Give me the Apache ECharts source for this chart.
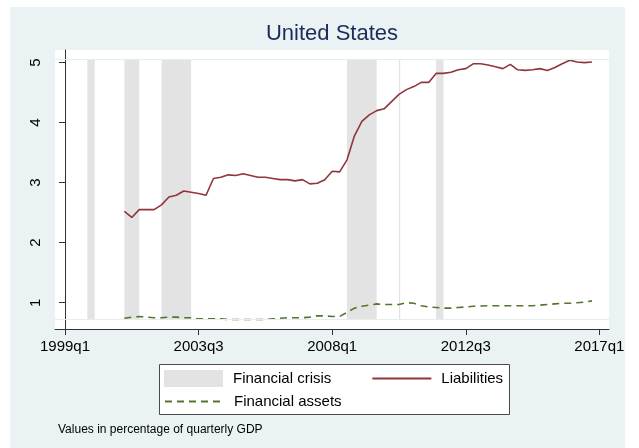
<!DOCTYPE html>
<html>
<head>
<meta charset="utf-8">
<script src="https://cdn.jsdelivr.net/npm/echarts@6/dist/echarts.min.js"></script>
<style>
  html, body { margin: 0; padding: 0; background: #fff; }
  #chart { width: 639px; height: 448px; }
</style>
</head>
<body>
<div id="chart"></div>
<script>
// quarterly series, starting at firstQuarter
const firstQuarter = '2001q1';
const liabilities = [
  2.52, 2.42, 2.55, 2.55, 2.55, 2.63, 2.76, 2.79, 2.86, 2.84, 2.82, 2.79,
  3.07, 3.09, 3.13, 3.12, 3.15, 3.12, 3.09, 3.09, 3.07, 3.05, 3.05, 3.03,
  3.05, 2.98, 2.99, 3.05, 3.19, 3.18, 3.38, 3.78, 4.02, 4.13, 4.20, 4.23,
  4.35, 4.47, 4.55, 4.60, 4.67, 4.67, 4.82, 4.82, 4.84, 4.88, 4.90, 4.98,
  4.98, 4.96, 4.93, 4.90, 4.97, 4.88, 4.87, 4.88, 4.90, 4.87, 4.92, 4.98,
  5.04, 5.01, 5.00, 5.01
];
const assets = [
  0.74, 0.76, 0.77, 0.76, 0.75, 0.75, 0.76, 0.76, 0.75, 0.75, 0.73, 0.73,
  0.73, 0.73, 0.72, 0.72, 0.72, 0.72, 0.72, 0.72, 0.73, 0.74, 0.75, 0.75,
  0.75, 0.76, 0.78, 0.78, 0.77, 0.77, 0.84, 0.91, 0.94, 0.96, 0.98, 0.97,
  0.97, 0.97, 1.00, 0.99, 0.95, 0.93, 0.92, 0.91, 0.91, 0.92, 0.93, 0.94,
  0.945, 0.95, 0.95, 0.95, 0.95, 0.95, 0.95, 0.95, 0.96, 0.97, 0.98, 0.99,
  0.99, 1.00, 1.01, 1.03
];

// crisis periods (first and last quarter)
const crisisStart = ['1999q4', '2001q1', '2002q2', '2008q3', '2010q2', '2011q3'];
const crisisEnd   = ['2000q1', '2001q3', '2003q2', '2009q3', '2010q2', '2011q4'];
const crisisTop = 5.05;
const crisisBottom = 0.73;

const xTickLabels = ['1999q1', '2003q3', '2008q1', '2012q3', '2017q1'];
const yTickLabels = [1, 2, 3, 4, 5];

const FONT = '"Liberation Sans", Arial, sans-serif';

function quarterIndex(label) {
  const parts = label.split('q').map(Number);
  return (parts[0] - 1999) * 4 + (parts[1] - 1);
}
function quarterLabel(i) {
  return (1999 + Math.floor(i / 4)) + 'q' + (i % 4 + 1);
}

const start = quarterIndex(firstQuarter);
const liabData = liabilities.map((v, i) => [start + i, v]);
const assetData = assets.map((v, i) => [start + i, v]);
const crisisData = crisisStart.map((s, i) => [quarterIndex(s), quarterIndex(crisisEnd[i])]);

const chart = echarts.init(document.getElementById('chart'));

// line legend items: keep the line, hide the marker
const lineOnly = { itemStyle: { opacity: 0 } };

const option = {
  animation: false,
  backgroundColor: '#fff',
  title: {
    text: 'United States',
    left: 332,
    top: 23,
    padding: 0,
    textAlign: 'center',
    textStyle: { fontFamily: FONT, fontSize: 22, fontWeight: 'normal', color: '#1c2d5a' }
  },
  graphic: [
    {
      type: 'rect', z: -10, silent: true,
      shape: { x: 10, y: 7, width: 615, height: 441 },
      style: { fill: '#eaf2f3' }
    },
    {
      type: 'rect', z: 1, silent: true,
      shape: { x: 159.5, y: 364.5, width: 350, height: 50 },
      style: { fill: '#fff', stroke: '#4a4a4a', lineWidth: 1 }
    },
    {
      type: 'text', z: 1, silent: true,
      x: 58, y: 430,
      style: { text: 'Values in percentage of quarterly GDP', font: '12px ' + FONT, fill: '#000', verticalAlign: 'middle' }
    }
  ],
  legend: [
    {
      data: [
        { name: 'Financial crisis', icon: 'rect' },
        Object.assign({ name: 'Liabilities' }, lineOnly)
      ],
      left: 164, top: 370, padding: 0,
      itemWidth: 59, itemHeight: 17, itemGap: 40,
      selectedMode: false, z: 5,
      textStyle: { fontFamily: FONT, fontSize: 15, color: '#000', padding: [0, 0, 0, 5] }
    },
    {
      data: [Object.assign({ name: 'Financial assets' }, lineOnly)],
      left: 164, top: 394, padding: 0,
      itemWidth: 59, itemHeight: 17,
      selectedMode: false, z: 5,
      textStyle: { fontFamily: FONT, fontSize: 15, color: '#000', padding: [0, 0, 0, 5] }
    }
  ],
  grid: {
    left: 55, top: 50, width: 554, height: 279,
    show: true, backgroundColor: '#fff', borderWidth: 0
  },
  xAxis: {
    type: 'value',
    min: -1.35, max: 73.3,
    splitLine: { show: false },
    axisLine: { show: true, lineStyle: { color: '#333', width: 1 } },
    axisTick: {
      show: true, length: 6, customValues: xTickLabels.map(quarterIndex),
      lineStyle: { color: '#333' }
    },
    axisLabel: {
      customValues: xTickLabels.map(quarterIndex),
      formatter: (v) => quarterLabel(v),
      margin: 10,
      fontFamily: FONT, fontSize: 15, color: '#000'
    }
  },
  yAxis: {
    type: 'value',
    min: 0.562, max: 5.21,
    splitLine: { show: false },
    axisLine: { show: true, lineStyle: { color: '#333', width: 1 } },
    axisTick: {
      show: true, length: 6, customValues: yTickLabels,
      lineStyle: { color: '#333' }
    },
    axisLabel: {
      customValues: yTickLabels,
      rotate: 90,
      margin: 12,
      fontFamily: FONT, fontSize: 15, color: '#000'
    }
  },
  series: [
    {
      name: 'Financial crisis',
      type: 'custom',
      color: '#e3e3e3',
      data: crisisData,
      encode: { x: [0, 1] },
      z: 1,
      renderItem(params, api) {
        const p0 = api.coord([api.value(0), crisisTop]);
        const p1 = api.coord([api.value(1), crisisBottom]);
        return {
          type: 'rect',
          shape: { x: p0[0], y: p0[1], width: Math.max(p1[0] - p0[0], 1.2), height: p1[1] - p0[1] },
          style: { fill: '#e3e3e3' }
        };
      },
      markLine: {
        silent: true,
        symbol: 'none',
        label: { show: false },
        lineStyle: { color: '#e6eded', width: 1, type: 'solid' },
        data: [{ yAxis: crisisTop }, { yAxis: crisisBottom }]
      }
    },
    {
      name: 'Liabilities',
      type: 'line',
      data: liabData,
      symbol: 'none',
      z: 3,
      color: '#90353b',
      lineStyle: { color: '#90353b', width: 1.6 }
    },
    {
      name: 'Financial assets',
      type: 'line',
      data: assetData,
      symbol: 'none',
      z: 3,
      color: '#55752f',
      lineStyle: { color: '#55752f', width: 1.6, type: [7, 5] }
    }
  ]
};

chart.setOption(option);
</script>
</body>
</html>
